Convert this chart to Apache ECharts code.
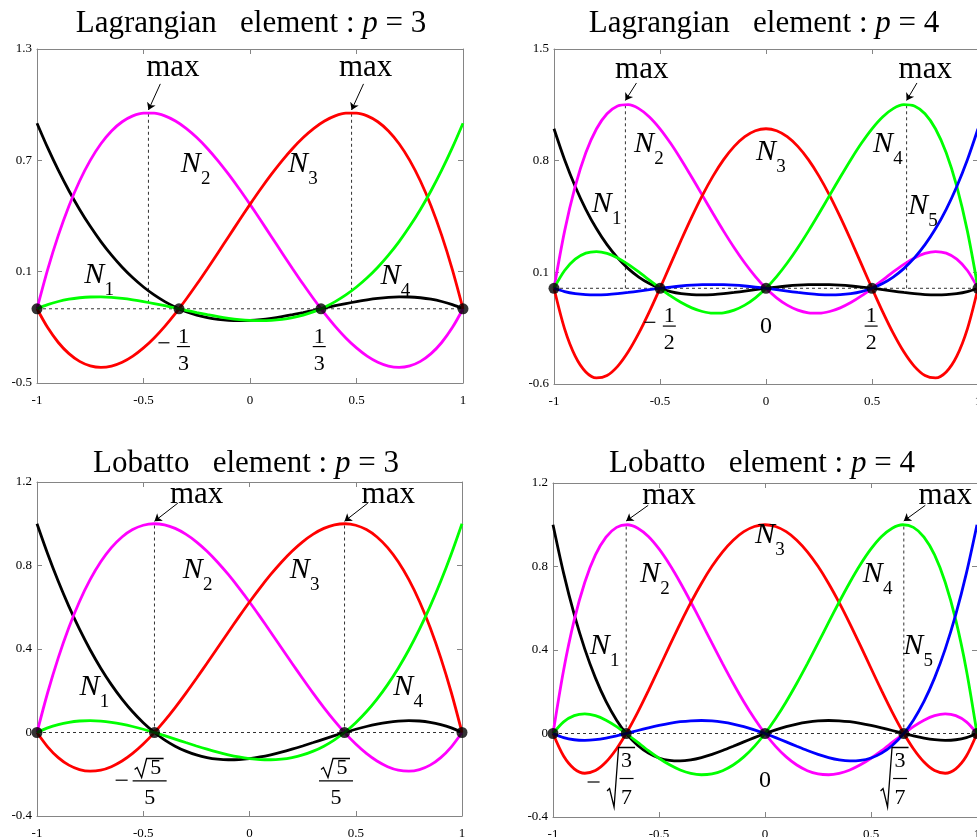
<!DOCTYPE html>
<html>
<head>
<meta charset="utf-8">
<script src="https://cdn.jsdelivr.net/npm/echarts@6/dist/echarts.min.js"></script>
<style>
html, body { margin: 0; padding: 0; background: #fff; }
#chart { width: 977px; height: 837px; }
</style>
</head>
<body>
<div id="chart"></div>
<script>
// ---- Shape function samples on a common abscissa grid ---------------------
const xGrid = [-1, -0.95, -0.9, -0.85, -0.8, -0.75, -0.7, -0.65, -0.6, -0.55, -0.5, -0.45, -0.4, -0.35, -0.3, -0.25, -0.2, -0.15, -0.1, -0.05, 0,
  0.05, 0.1, 0.15, 0.2, 0.25, 0.3, 0.35, 0.4, 0.45, 0.5, 0.55, 0.6, 0.65, 0.7, 0.75, 0.8, 0.85, 0.9, 0.95, 1];

// Lagrangian element, p = 3 (nodes -1, -1/3, 1/3, 1)
const lag3N1 = [1, 0.8681, 0.7469, 0.6362, 0.5355, 0.4443, 0.3623, 0.289, 0.224, 0.1669, 0.1172, 0.0745, 0.0385, 0.0086, -0.0154, -0.0342, -0.048, -0.0573, -0.0626, -0.0641, -0.0625,
  -0.058, -0.0512, -0.0424, -0.032, -0.0205, -0.0083, 0.0042, 0.0165, 0.0283, 0.0391, 0.0484, 0.056, 0.0613, 0.0639, 0.0635, 0.0595, 0.0516, 0.0393, 0.0223, 0];
const lag3N2 = [0, 0.2111, 0.3954, 0.5541, 0.6885, 0.7998, 0.8893, 0.9583, 1.008, 1.0397, 1.0547, 1.0542, 1.0395, 1.0119, 0.9726, 0.9229, 0.864, 0.7973, 0.7239, 0.6453, 0.5625,
  0.4769, 0.3898, 0.3024, 0.216, 0.1318, 0.0512, -0.0247, -0.0945, -0.157, -0.2109, -0.255, -0.288, -0.3086, -0.3156, -0.3076, -0.2835, -0.2419, -0.1817, -0.1015, 0];
const lag3N3 = [0, -0.1015, -0.1817, -0.2419, -0.2835, -0.3076, -0.3156, -0.3086, -0.288, -0.255, -0.2109, -0.157, -0.0945, -0.0247, 0.0512, 0.1318, 0.216, 0.3024, 0.3898, 0.4769, 0.5625,
  0.6453, 0.7239, 0.7973, 0.864, 0.9229, 0.9726, 1.0119, 1.0395, 1.0542, 1.0547, 1.0397, 1.008, 0.9583, 0.8893, 0.7998, 0.6885, 0.5541, 0.3954, 0.2111, 0];
const lag3N4 = [0, 0.0223, 0.0393, 0.0516, 0.0595, 0.0635, 0.0639, 0.0613, 0.056, 0.0484, 0.0391, 0.0283, 0.0165, 0.0042, -0.0083, -0.0205, -0.032, -0.0424, -0.0512, -0.058, -0.0625,
  -0.0641, -0.0626, -0.0573, -0.048, -0.0342, -0.0154, 0.0086, 0.0385, 0.0745, 0.1172, 0.1669, 0.224, 0.289, 0.3623, 0.4443, 0.5355, 0.6362, 0.7469, 0.8681, 1];
const lag3Nodes = [-1, -0.3333, 0.3333, 1];
const lag3PeakX = [-0.4768, 0.4768];
const lag3PeakY = [1.0563, 1.0563];

// Lagrangian element, p = 4 (nodes -1, -1/2, 0, 1/2, 1)
const lag4N1 = [1, 0.8058, 0.6384, 0.4953, 0.3744, 0.2734, 0.1904, 0.1233, 0.0704, 0.0298, 0, -0.0207, -0.0336, -0.0402, -0.0416, -0.0391, -0.0336, -0.0262, -0.0176, -0.0087, 0,
  0.0078, 0.0144, 0.0193, 0.0224, 0.0234, 0.0224, 0.0193, 0.0144, 0.0078, 0, -0.0087, -0.0176, -0.0262, -0.0336, -0.0391, -0.0416, -0.0402, -0.0336, -0.0207, 0];
const lag4N2 = [0, 0.3582, 0.6384, 0.8492, 0.9984, 1.0938, 1.1424, 1.1512, 1.1264, 1.0742, 1, 0.9092, 0.8064, 0.6962, 0.5824, 0.4688, 0.3584, 0.2542, 0.1584, 0.0732, 0,
  -0.0599, -0.1056, -0.1369, -0.1536, -0.1563, -0.1456, -0.1229, -0.0896, -0.0479, 0, 0.0512, 0.1024, 0.1502, 0.1904, 0.2188, 0.2304, 0.2202, 0.1824, 0.1112, 0];
const lag4N3 = [0, -0.2545, -0.4256, -0.5245, -0.5616, -0.5469, -0.4896, -0.3985, -0.2816, -0.1465, 0, 0.1515, 0.3024, 0.4475, 0.5824, 0.7031, 0.8064, 0.8895, 0.9504, 0.9875, 1,
  0.9875, 0.9504, 0.8895, 0.8064, 0.7031, 0.5824, 0.4475, 0.3024, 0.1515, 0, -0.1465, -0.2816, -0.3985, -0.4896, -0.5469, -0.5616, -0.5245, -0.4256, -0.2545, 0];
const lag4N4 = [0, 0.1112, 0.1824, 0.2202, 0.2304, 0.2188, 0.1904, 0.1502, 0.1024, 0.0512, 0, -0.0479, -0.0896, -0.1229, -0.1456, -0.1563, -0.1536, -0.1369, -0.1056, -0.0599, 0,
  0.0732, 0.1584, 0.2542, 0.3584, 0.4688, 0.5824, 0.6962, 0.8064, 0.9092, 1, 1.0742, 1.1264, 1.1512, 1.1424, 1.0938, 0.9984, 0.8492, 0.6384, 0.3582, 0];
const lag4N5 = [0, -0.0207, -0.0336, -0.0402, -0.0416, -0.0391, -0.0336, -0.0262, -0.0176, -0.0087, 0, 0.0078, 0.0144, 0.0193, 0.0224, 0.0234, 0.0224, 0.0193, 0.0144, 0.0078, 0,
  -0.0087, -0.0176, -0.0262, -0.0336, -0.0391, -0.0416, -0.0402, -0.0336, -0.0207, 0, 0.0298, 0.0704, 0.1233, 0.1904, 0.2734, 0.3744, 0.4953, 0.6384, 0.8058, 1];
const lag4Nodes = [-1, -0.5, 0, 0.5, 1];
const lag4PeakX = [-0.6632, 0.6632];
const lag4PeakY = [1.1524, 1.1524];

// Lobatto element, p = 3 (nodes -1, -sqrt(5)/5, sqrt(5)/5, 1)
const lob3N1 = [1, 0.8562, 0.7244, 0.6041, 0.495, 0.3965, 0.3081, 0.2295, 0.16, 0.0993, 0.0469, 0.0023, -0.035, -0.0654, -0.0894, -0.1074, -0.12, -0.1276, -0.1306, -0.1296, -0.125,
  -0.1173, -0.1069, -0.0943, -0.08, -0.0645, -0.0481, -0.0315, -0.015, 0.0009, 0.0156, 0.0288, 0.04, 0.0487, 0.0544, 0.0566, 0.055, 0.049, 0.0381, 0.022, 0];
const lob3N2 = [0, 0.1904, 0.3577, 0.5031, 0.6275, 0.732, 0.8177, 0.8855, 0.9367, 0.9721, 0.9928, 1, 0.9946, 0.9777, 0.9503, 0.9135, 0.8683, 0.8159, 0.7571, 0.6931, 0.625,
  0.5537, 0.4804, 0.406, 0.3317, 0.2584, 0.1872, 0.1192, 0.0554, -0.0031, -0.0553, -0.1002, -0.1367, -0.1637, -0.1802, -0.1851, -0.1775, -0.1562, -0.1202, -0.0685, 0];
const lob3N3 = [0, -0.0685, -0.1202, -0.1562, -0.1775, -0.1851, -0.1802, -0.1637, -0.1367, -0.1002, -0.0553, -0.0031, 0.0554, 0.1192, 0.1872, 0.2584, 0.3317, 0.406, 0.4804, 0.5537, 0.625,
  0.6931, 0.7571, 0.8159, 0.8683, 0.9135, 0.9503, 0.9777, 0.9946, 1, 0.9928, 0.9721, 0.9367, 0.8855, 0.8177, 0.732, 0.6275, 0.5031, 0.3577, 0.1904, 0];
const lob3N4 = [0, 0.022, 0.0381, 0.049, 0.055, 0.0566, 0.0544, 0.0487, 0.04, 0.0288, 0.0156, 0.0009, -0.015, -0.0315, -0.0481, -0.0645, -0.08, -0.0943, -0.1069, -0.1173, -0.125,
  -0.1296, -0.1306, -0.1276, -0.12, -0.1074, -0.0894, -0.0654, -0.035, 0.0023, 0.0469, 0.0993, 0.16, 0.2295, 0.3081, 0.3965, 0.495, 0.6041, 0.7244, 0.8562, 1];
const lob3Nodes = [-1, -0.4472, 0.4472, 1];
const lob3PeakX = [-0.4472, 0.4472];
const lob3PeakY = [1, 1];

// Lobatto element, p = 4 (nodes -1, -sqrt(3/7), 0, sqrt(3/7), 1)
const lob4N1 = [1, 0.7682, 0.5707, 0.4044, 0.2664, 0.1538, 0.064, -0.0057, -0.0576, -0.094, -0.1172, -0.1291, -0.1316, -0.1265, -0.1155, -0.1001, -0.0816, -0.0613, -0.0403, -0.0196, 0,
  0.0177, 0.033, 0.0453, 0.0544, 0.0601, 0.0622, 0.0609, 0.0564, 0.049, 0.0391, 0.0273, 0.0144, 0.0012, -0.0113, -0.022, -0.0296, -0.0328, -0.03, -0.0197, 0];
const lob4N2 = [0, 0.3035, 0.5428, 0.7246, 0.8553, 0.941, 0.9874, 0.9999, 0.9836, 0.9435, 0.884, 0.8094, 0.7235, 0.63, 0.5321, 0.4329, 0.335, 0.2409, 0.1525, 0.0718, 0,
  -0.0616, -0.1121, -0.1511, -0.1782, -0.1936, -0.1977, -0.191, -0.1747, -0.15, -0.1184, -0.082, -0.0428, -0.0036, 0.0331, 0.0639, 0.0855, 0.0941, 0.0857, 0.0559, 0];
const lob4N3 = [0, -0.1078, -0.1691, -0.1903, -0.1776, -0.1367, -0.0731, 0.0082, 0.1024, 0.2052, 0.3125, 0.4207, 0.5264, 0.6267, 0.7189, 0.8008, 0.8704, 0.9262, 0.9669, 0.9917, 1,
  0.9917, 0.9669, 0.9262, 0.8704, 0.8008, 0.7189, 0.6267, 0.5264, 0.4207, 0.3125, 0.2052, 0.1024, 0.0082, -0.0731, -0.1367, -0.1776, -0.1903, -0.1691, -0.1078, 0];
const lob4N4 = [0, 0.0559, 0.0857, 0.0941, 0.0855, 0.0639, 0.0331, -0.0036, -0.0428, -0.082, -0.1184, -0.15, -0.1747, -0.191, -0.1977, -0.1936, -0.1782, -0.1511, -0.1121, -0.0616, 0,
  0.0718, 0.1525, 0.2409, 0.335, 0.4329, 0.5321, 0.63, 0.7235, 0.8094, 0.884, 0.9435, 0.9836, 0.9999, 0.9874, 0.941, 0.8553, 0.7246, 0.5428, 0.3035, 0];
const lob4N5 = [0, -0.0197, -0.03, -0.0328, -0.0296, -0.022, -0.0113, 0.0012, 0.0144, 0.0273, 0.0391, 0.049, 0.0564, 0.0609, 0.0622, 0.0601, 0.0544, 0.0453, 0.033, 0.0177, 0,
  -0.0196, -0.0403, -0.0613, -0.0816, -0.1001, -0.1155, -0.1265, -0.1316, -0.1291, -0.1172, -0.094, -0.0576, -0.0057, 0.064, 0.1538, 0.2664, 0.4044, 0.5707, 0.7682, 1];
const lob4Nodes = [-1, -0.6547, 0, 0.6547, 1];
const lob4PeakX = [-0.6547, 0.6547];
const lob4PeakY = [1, 1];

// Tick labels
const xTickLabels = ['-1', '-0.5', '0', '0.5', '1'];
const lag3YTickLabels = ['-0.5', '0.1', '0.7', '1.3'];
const lag4YTickLabels = ['-0.6', '0.1', '0.8', '1.5'];
const lobYTickLabels = ['-0.4', '0', '0.4', '0.8', '1.2'];

// ---- Styling -----------------------------------------------------------
const SERIF = '"Liberation Serif", "Times New Roman", serif';
const BLACK = '#000000', MAGENTA = '#ff00ff', RED = '#ff0000', GREEN = '#00ff00', BLUE = '#0000ff';
const AXIS_GRAY = '#858585';
const DASH = { color: '#333', width: 1, type: [3, 3] };

const panels = [
  {
    title: '{r|Lagrangian   element : }{i|p}{r| = 3}', titlePos: [251, 24],
    grid: { left: 37, top: 49, width: 426, height: 334 },
    yMin: -0.4, yMax: 1.4, yStep: 0.6, yLabels: lag3YTickLabels,
    curves: [lag3N1, lag3N2, lag3N3, lag3N4], colors: [BLACK, MAGENTA, RED, GREEN],
    nodes: lag3Nodes, peakX: lag3PeakX, peakY: lag3PeakY,
    maxAt: [[-0.362, 1.302], [0.543, 1.302]], arrowFrom: [[-0.421, 1.212], [0.533, 1.212]], tipLift: 0.015,
    nLabels: [[-0.731, 0.193], [-0.278, 0.79], [0.2256, 0.791], [0.66, 0.187]],
    marks: [{ kind: 'frac', x: -0.3125, num: '1', den: '3', neg: true }, { kind: 'frac', x: 0.325, num: '1', den: '3' }]
  },
  {
    title: '{r|Lagrangian   element : }{i|p}{r| = 4}', titlePos: [764, 24],
    grid: { left: 554, top: 49, width: 424, height: 335 },
    yMin: -0.6, yMax: 1.5, yStep: 0.7, yLabels: lag4YTickLabels,
    curves: [lag4N1, lag4N2, lag4N3, lag4N4, lag4N5], colors: [BLACK, MAGENTA, RED, GREEN, BLUE],
    nodes: lag4Nodes, peakX: lag4PeakX, peakY: lag4PeakY,
    maxAt: [[-0.586, 1.373], [0.751, 1.373]], arrowFrom: [[-0.611, 1.287], [0.712, 1.287]], tipLift: 0.025,
    nLabels: [[-0.775, 0.542], [-0.576, 0.918], [0, 0.868], [0.552, 0.918], [0.717, 0.529]],
    marks: [{ kind: 'frac', x: -0.456, num: '1', den: '2', neg: true }, { kind: 'zero', x: 0, dy: 38.6 }, { kind: 'frac', x: 0.496, num: '1', den: '2' }]
  },
  {
    title: '{r|Lobatto   element : }{i|p}{r| = 3}', titlePos: [246, 464],
    grid: { left: 37, top: 482, width: 425, height: 334 },
    yMin: -0.4, yMax: 1.2, yStep: 0.4, yLabels: lobYTickLabels,
    curves: [lob3N1, lob3N2, lob3N3, lob3N4], colors: [BLACK, MAGENTA, RED, GREEN],
    nodes: lob3Nodes, peakX: lob3PeakX, peakY: lob3PeakY,
    maxAt: [[-0.249, 1.143], [0.653, 1.143]], arrowFrom: [[-0.337, 1.099], [0.557, 1.099]], tipLift: 0.012,
    nLabels: [[-0.753, 0.227], [-0.267, 0.788], [0.237, 0.788], [0.724, 0.227]],
    marks: [{ kind: 'sqrt5', x: -0.47, neg: true }, { kind: 'sqrt5', x: 0.407 }]
  },
  {
    title: '{r|Lobatto   element : }{i|p}{r| = 4}', titlePos: [762, 464],
    grid: { left: 553, top: 483, width: 424, height: 334 },
    yMin: -0.4, yMax: 1.2, yStep: 0.4, yLabels: lobYTickLabels,
    curves: [lob4N1, lob4N2, lob4N3, lob4N4, lob4N5], colors: [BLACK, MAGENTA, RED, GREEN, BLUE],
    nodes: lob4Nodes, peakX: lob4PeakX, peakY: lob4PeakY,
    maxAt: [[-0.453, 1.141], [0.85, 1.141]], arrowFrom: [[-0.551, 1.093], [0.756, 1.093]], tipLift: 0.018,
    nLabels: [[-0.779, 0.427], [-0.543, 0.772], [0, 0.959], [0.508, 0.772], [0.699, 0.427]],
    marks: [{ kind: 'root37', x: -0.653, neg: true }, { kind: 'zero', x: 0, dy: 47 }, { kind: 'root37', x: 0.637 }]
  }
];

// ---- Axes, grids and series -----------------------------------------------
function axisCommon(showLabel) {
  return {
    axisLine: { show: true, onZero: false, lineStyle: { color: AXIS_GRAY, width: 1 } },
    axisTick: { show: true, inside: true, length: 5, lineStyle: { color: AXIS_GRAY, width: 1 } },
    splitLine: { show: false },
    axisLabel: { show: showLabel, color: '#000', fontFamily: SERIF, fontSize: 13 }
  };
}

const grids = [], xAxes = [], yAxes = [], series = [];
panels.forEach((p, i) => {
  grids.push(Object.assign({ outerBoundsMode: 'none', containLabel: false }, p.grid));
  ['bottom', 'top'].forEach(pos => {
    const a = axisCommon(pos === 'bottom');
    a.axisLabel.margin = 11;
    a.axisLabel.formatter = v => xTickLabels[Math.round((v + 1) / 0.5)];
    xAxes.push(Object.assign({ gridIndex: i, type: 'value', position: pos, min: -1, max: 1, interval: 0.5 }, a));
  });
  ['left', 'right'].forEach(pos => {
    const a = axisCommon(pos === 'left');
    a.axisLabel.margin = 5;
    a.axisLabel.padding = [5, 0, 0, 0];
    a.axisLabel.formatter = v => p.yLabels[Math.round((v - p.yMin) / p.yStep)];
    yAxes.push(Object.assign({ gridIndex: i, type: 'value', position: pos, min: p.yMin, max: p.yMax, interval: p.yStep }, a));
  });

  const ax = { xAxisIndex: 2 * i, yAxisIndex: 2 * i };
  // dashed zero line and the dashed drops from each maximum
  series.push(Object.assign({ type: 'line', data: [[-1, 0], [1, 0]], symbol: 'none', lineStyle: DASH, z: 1, silent: true }, ax));
  p.peakX.forEach((px, k) => {
    series.push(Object.assign({ type: 'line', data: [[px, 0], [px, p.peakY[k]]], symbol: 'none', lineStyle: DASH, z: 1, silent: true }, ax));
  });
  // shape functions
  p.curves.forEach((ys, k) => {
    series.push(Object.assign({
      type: 'line', name: 'N' + (k + 1), data: xGrid.map((x, j) => [x, ys[j]]),
      symbol: 'none', smooth: 0.3, lineStyle: { color: p.colors[k], width: 2.8 }, z: 2, silent: true
    }, ax));
  });
  // nodes
  series.push(Object.assign({
    type: 'scatter', data: p.nodes.map(x => [x, 0]), symbol: 'circle', symbolSize: 11,
    itemStyle: { color: '#000' }, z: 4, silent: true
  }, ax));
  // arrows pointing at the maxima
  series.push(Object.assign({
    type: 'lines', coordinateSystem: 'cartesian2d',
    data: p.peakX.map((px, k) => ({ coords: [p.arrowFrom[k], [px, p.peakY[k] + p.tipLift]] })),
    symbol: ['none', 'arrow'], symbolSize: 7,
    lineStyle: { color: '#000', width: 1, opacity: 1, curveness: 0 }, z: 5, silent: true
  }, ax));
});

const chart = echarts.init(document.getElementById('chart'), null, { renderer: 'canvas' });
chart.setOption({
  animation: false,
  backgroundColor: '#fff',
  grid: grids,
  xAxis: xAxes,
  yAxis: yAxes,
  series: series
});

// ---- Text annotations (placed through the axes' own scales) ---------------
const ROMAN = '31px ' + SERIF;
const ITALIC = 'italic 30px ' + SERIF;
const SUB = '19px ' + SERIF;
const DIGIT = '22px ' + SERIF;
const titleRich = {
  r: { font: '31px ' + SERIF, fill: '#000' },
  i: { font: 'italic 31px ' + SERIF, fill: '#000' }
};

function txt(text, x, y, font) {
  return { type: 'text', x: x, y: y, silent: true, z: 10,
    style: { text: text, font: font, fill: '#000', textAlign: 'center', textVerticalAlign: 'middle' } };
}
function seg(x1, y1, x2, y2) {
  return { type: 'line', silent: true, z: 10, shape: { x1: x1, y1: y1, x2: x2, y2: y2 },
    style: { stroke: '#000', lineWidth: 1.2 } };
}
function poly(points) {
  return { type: 'polyline', silent: true, z: 10, shape: { points: points },
    style: { stroke: '#000', lineWidth: 1.3, fill: null, lineJoin: 'miter' } };
}

const graphics = [];
panels.forEach((p, i) => {
  const toPx = (x, y) => chart.convertToPixel({ xAxisIndex: 2 * i, yAxisIndex: 2 * i }, [x, y]);
  graphics.push({ type: 'text', x: p.titlePos[0], y: p.titlePos[1], silent: true, z: 10,
    style: { text: p.title, rich: titleRich, fill: '#000', textAlign: 'center', textVerticalAlign: 'middle' } });

  p.maxAt.forEach(m => {
    const c = toPx(m[0], m[1]);
    graphics.push(txt('max', c[0], c[1] + 1, ROMAN));
  });

  p.nLabels.forEach((n, k) => {
    const c = toPx(n[0], n[1]);
    graphics.push(txt('N', c[0], c[1] + 2, ITALIC));
    graphics.push(txt(String(k + 1), c[0] + 15, c[1] + 17, SUB));
  });

  p.marks.forEach(m => {
    const c = toPx(m.x, 0);
    const cx = c[0], y0 = c[1];
    if (m.kind === 'frac') {
      graphics.push(txt(m.num, cx, y0 + 28, DIGIT));
      graphics.push(seg(cx - 6.5, y0 + 37.8, cx + 6.5, y0 + 37.8));
      graphics.push(txt(m.den, cx, y0 + 55, DIGIT));
      if (m.neg) graphics.push(seg(cx - 25, y0 + 34, cx - 14, y0 + 34));
    } else if (m.kind === 'zero') {
      graphics.push(txt('0', cx, y0 + m.dy, '24px ' + SERIF));
    } else if (m.kind === 'sqrt5') {
      graphics.push(poly([[cx - 15, y0 + 37], [cx - 12.5, y0 + 35], [cx - 8, y0 + 45], [cx - 3, y0 + 26], [cx + 14, y0 + 26]]));
      graphics.push(txt('5', cx + 6, y0 + 36, DIGIT));
      graphics.push(seg(cx - 17, y0 + 48.4, cx + 17, y0 + 48.4));
      graphics.push(txt('5', cx, y0 + 65.4, DIGIT));
      if (m.neg) graphics.push(seg(cx - 34, y0 + 47.7, cx - 22, y0 + 47.7));
    } else if (m.kind === 'root37') {
      graphics.push(poly([[cx - 19.5, y0 + 57.5], [cx - 17, y0 + 55], [cx - 12.5, y0 + 73.5], [cx - 8, y0 + 14], [cx + 8.5, y0 + 14]]));
      graphics.push(txt('3', cx, y0 + 28, DIGIT));
      graphics.push(seg(cx - 7, y0 + 45, cx + 7, y0 + 45));
      graphics.push(txt('7', cx, y0 + 64.5, DIGIT));
      if (m.neg) graphics.push(seg(cx - 39, y0 + 48.5, cx - 27, y0 + 48.5));
    }
  });
});
chart.setOption({ graphic: graphics });
</script>
</body>
</html>
